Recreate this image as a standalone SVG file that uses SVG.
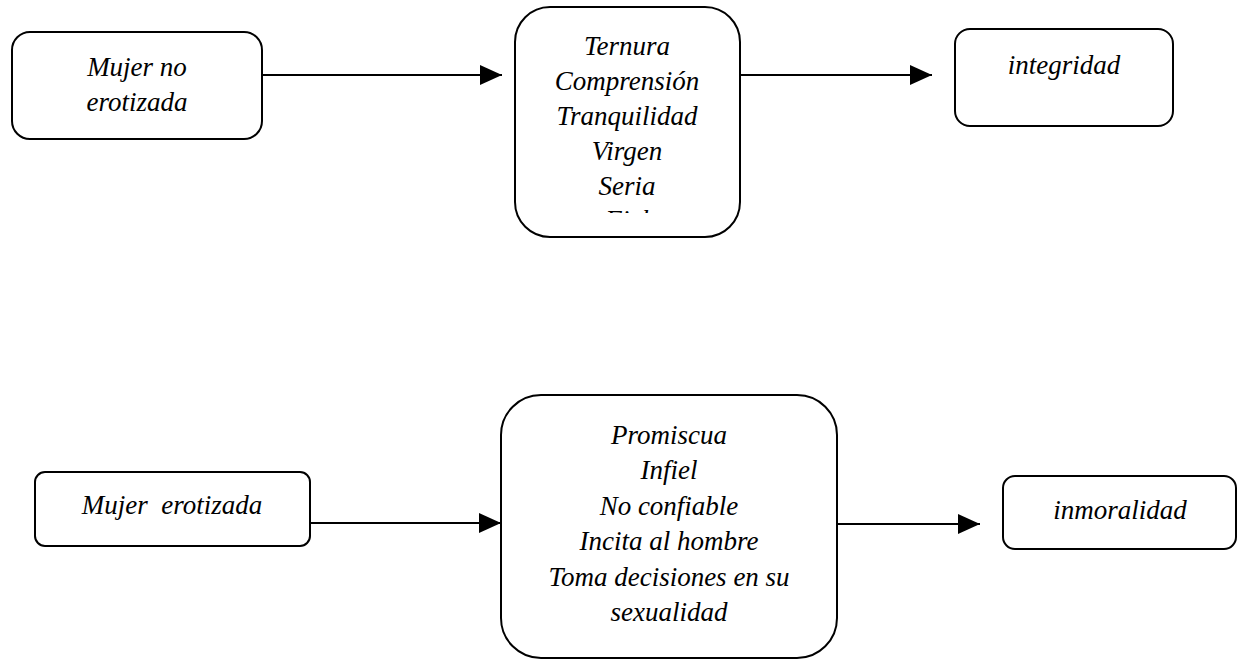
<svg xmlns="http://www.w3.org/2000/svg" width="1244" height="661" viewBox="0 0 1244 661">
<style>
.box{fill:#fff;stroke:#000;stroke-width:2}
.t{font-family:"Liberation Serif","DejaVu Serif",serif;font-style:italic;font-size:27px;fill:#000;text-anchor:middle;white-space:pre}
.c{stroke:#000;stroke-width:2;fill:none}
</style>
<defs>
<marker id="ah" markerUnits="userSpaceOnUse" markerWidth="22" markerHeight="20" refX="22" refY="10" orient="auto">
<path d="M0,0 L22,10 L0,20 Z" fill="#000"/>
</marker>
<clipPath id="clip2"><rect x="515" y="7" width="225" height="206"/></clipPath>
</defs>
<g id="connectors">
<line class="c" x1="262" y1="75" x2="502" y2="75" marker-end="url(#ah)"/>
<line class="c" x1="740" y1="75" x2="932" y2="75" marker-end="url(#ah)"/>
<line class="c" x1="310" y1="523" x2="501" y2="523" marker-end="url(#ah)"/>
<line class="c" x1="837" y1="524" x2="980" y2="524" marker-end="url(#ah)"/>
</g>
<g id="n1">
<rect class="box" x="12" y="32" width="250" height="107" rx="18"/>
<text class="t" x="137" y="76">Mujer no</text>
<text class="t" x="137" y="111">erotizada</text>
</g>
<g id="n2">
<rect class="box" x="515" y="7" width="225" height="230" rx="35"/>
<g clip-path="url(#clip2)">
<text class="t" x="627" y="55">Ternura</text>
<text class="t" x="627" y="90">Comprensión</text>
<text class="t" x="627" y="125">Tranquilidad</text>
<text class="t" x="627" y="160">Virgen</text>
<text class="t" x="627" y="195">Seria</text>
<text class="t" x="627" y="229">Fiel</text>
</g>
</g>
<g id="n3">
<rect class="box" x="955" y="29" width="218" height="97" rx="15"/>
<text class="t" x="1064" y="74">integridad</text>
</g>
<g id="n4">
<rect class="box" x="35" y="472" width="275" height="74" rx="10"/>
<text class="t" x="172" y="514">Mujer  erotizada</text>
</g>
<g id="n5">
<rect class="box" x="501" y="395" width="336" height="263" rx="40"/>
<text class="t" x="669" y="444">Promiscua</text>
<text class="t" x="669" y="479">Infiel</text>
<text class="t" x="669" y="515">No confiable</text>
<text class="t" x="669" y="550">Incita al hombre</text>
<text class="t" x="669" y="586">Toma decisiones en su</text>
<text class="t" x="669" y="621">sexualidad</text>
</g>
<g id="n6">
<rect class="box" x="1003" y="476" width="233" height="73" rx="12"/>
<text class="t" x="1120" y="519">inmoralidad</text>
</g>
</svg>
